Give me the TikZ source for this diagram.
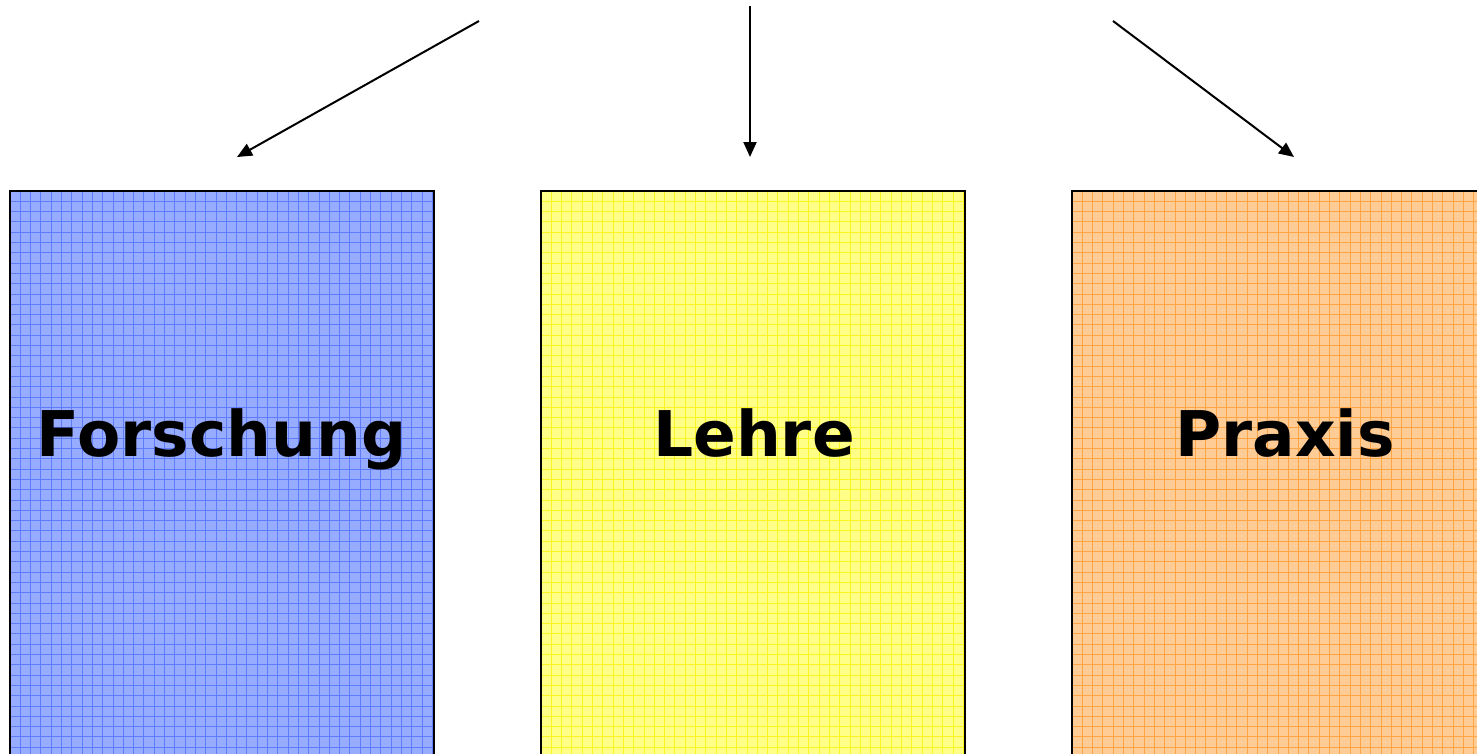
\documentclass[tikz,border=0pt]{standalone}
\usepackage{fontspec}
\setmainfont{DejaVu Sans}
\usetikzlibrary{arrows.meta}
\definecolor{bluefill}{RGB}{152,172,255}
\definecolor{blueline}{RGB}{95,125,250}
\definecolor{yelfill}{RGB}{255,255,135}
\definecolor{yelline}{RGB}{250,245,30}
\definecolor{orfill}{RGB}{255,204,150}
\definecolor{orline}{RGB}{255,165,70}
\tikzset{
  panel/.style={fill=#1fill, minimum width=424pt, minimum height=620pt,
    anchor=north west, inner sep=0pt, outer sep=0pt},
  gridlines/.style={draw=#1line, line width=1pt},
  frame/.style={draw=black, line width=2pt},
  title/.style={font=\bfseries\fontsize{63}{70}\selectfont, text=black, inner sep=0pt, anchor=base},
  arr/.style={line width=2pt, -{Triangle[length=15pt,width=13pt]}}
}
\newcommand{\gridpanel}[2]{%
  \foreach \i in {1,...,41} {
    \draw[gridlines=#2] ([xshift=\i*10.3pt]#1.north west) -- ([xshift=\i*10.3pt]#1.south west);
  }
  \foreach \j in {1,...,60} {
    \draw[gridlines=#2] ([yshift=-\j*10.3pt]#1.north west) -- ([yshift=-\j*10.3pt]#1.north east);
  }
  \draw[frame] (#1.south west) rectangle (#1.north east);}
\begin{document}
\begin{tikzpicture}[x=1pt,y=-1pt]
\useasboundingbox (0,0) rectangle (1477,753);
\node[panel=blue] (forschung) at (10,191) {};
\node[panel=yel] (lehre) at (541,191) {};
\node[panel=or] (praxis) at (1072,191) {};
\gridpanel{forschung}{blue}
\gridpanel{lehre}{yel}
\gridpanel{praxis}{or}
\node[title] (tf) at (221.5,456) {Forschung};
\node[title] (tl) at (754,456) {Lehre};
\node[title] (tp) at (1285,456) {Praxis};
\coordinate (s1) at (479,21);
\coordinate (e1) at (237,157);
\coordinate (s2) at (750,6);
\coordinate (e2) at (750,157);
\coordinate (s3) at (1113,21);
\coordinate (e3) at (1294,157);
\draw[arr] (s1) -- (e1);
\draw[arr] (s2) -- (e2);
\draw[arr] (s3) -- (e3);
\end{tikzpicture}
\end{document}
